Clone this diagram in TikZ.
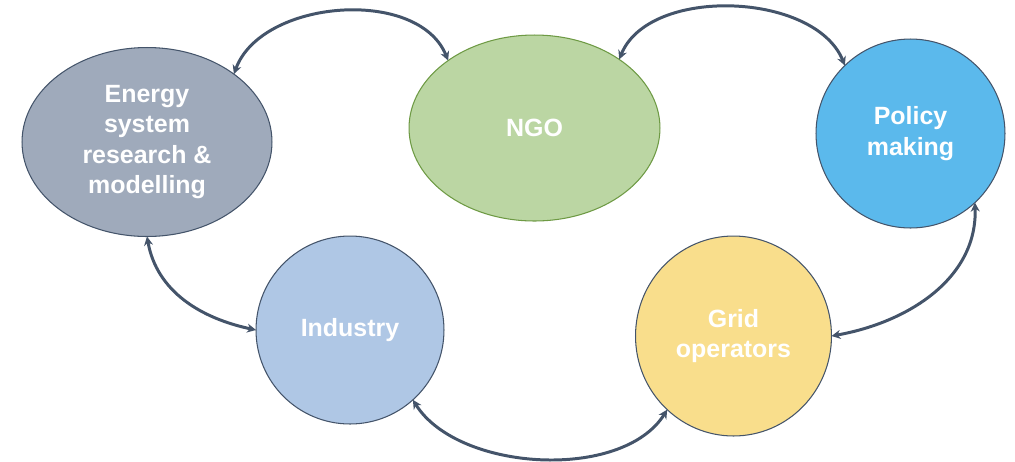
\documentclass[tikz,border=0pt]{standalone}
\usepackage{fontspec}
\setmainfont{Liberation Sans}
\usetikzlibrary{shapes.geometric,arrows.meta}
\definecolor{arrowc}{HTML}{44546A}
\definecolor{edgec}{HTML}{44546A}
\definecolor{energyf}{HTML}{9FAABB}
\definecolor{ngof}{HTML}{BBD6A3}
\definecolor{ngoe}{HTML}{6E9A44}
\definecolor{policyf}{HTML}{5BB9EC}
\definecolor{industryf}{HTML}{AFC7E5}
\definecolor{gridf}{HTML}{F9DE8C}
\begin{document}
\begin{tikzpicture}[x=0.02cm,y=-0.02cm,
  lbl/.style={text=white,font=\fontsize{14.2}{17.3}\selectfont\bfseries,align=center,inner sep=0pt,outer sep=0pt},
  oval/.style={ellipse,draw=edgec,line width=0.6pt,lbl},
  circ/.style={circle,draw=edgec,line width=0.6pt,lbl,minimum size=3.78cm},
  link/.style={draw=arrowc,line width=1.7pt,{Stealth[length=0.18cm,width=0.18cm]}-{Stealth[length=0.18cm,width=0.18cm]}}
]
\useasboundingbox (0,0) rectangle (1015,461);
\node[oval,fill=energyf,minimum width=5cm,minimum height=3.78cm] (E) at (147,142) {Energy\\system\\research \&\\modelling};
\node[oval,fill=ngof,draw=ngoe,minimum width=5.02cm,minimum height=3.72cm] (N) at (534.5,128) {NGO};
\node[circ,fill=policyf] (P) at (910.5,133.5) {Policy\\making};
\node[circ,fill=industryf,minimum size=3.76cm] (I) at (350,330) {Industry};
\node[oval,fill=gridf,minimum width=3.92cm,minimum height=4cm] (G) at (733.5,336) {Grid\\operators};
\draw[link] (E.38) to[out=70,in=112,looseness=0.95] (N.142);
\draw[link] (N.39) to[out=68,in=112,looseness=0.9] (P.134);
\draw[link] (E.-90) to[out=-80,in=168,looseness=1] (I.180);
\draw[link] (I.-48) to[out=-58,in=-122,looseness=0.85] (G.228);
\draw[link] (P.-47) to[out=-88,in=10,looseness=1] (G.0);
\end{tikzpicture}
\end{document}
